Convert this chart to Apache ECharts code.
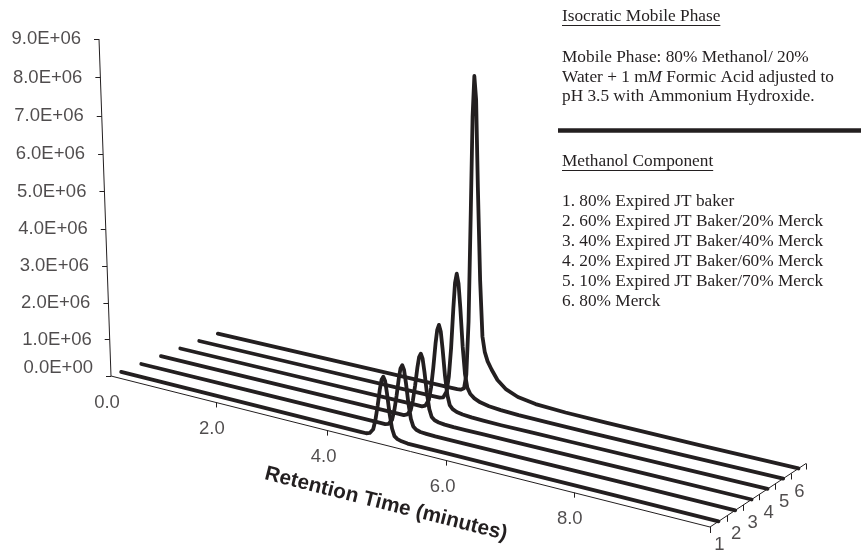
<!DOCTYPE html>
<html><head><meta charset="utf-8">
<script src="https://cdn.jsdelivr.net/npm/echarts@6/dist/echarts.min.js"></script>
<style>html,body{margin:0;padding:0;background:#fff}#c{width:861px;height:550px}</style>
</head><body><div id="c"></div>
<script>
// ---------------- data ----------------
const timeMin = [0, 2, 4.40, 4.50, 4.56, 4.62, 4.66, 4.70, 4.74, 4.77, 4.80, 4.83, 4.86, 4.90, 4.94, 4.98, 5.03, 5.10, 5.20, 5.35, 5.55, 5.85, 6.35, 7.00, 8.50, 10.0];
const trace1 = [0, 0, 0, 0, 0.03e6, 0.15e6, 0.41e6, 0.79e6, 1.23e6, 1.48e6, 1.57e6, 1.47e6, 1.16e6, 0.66e6, 0.29e6, 0.11e6, 0.05e6, 0.02e6, 0, 0, 0, 0, 0, 0, 0, 0];
const trace2 = [0, 0, 0, 0, 0.03e6, 0.16e6, 0.43e6, 0.82e6, 1.28e6, 1.55e6, 1.64e6, 1.53e6, 1.21e6, 0.69e6, 0.30e6, 0.12e6, 0.05e6, 0.02e6, 0.01e6, 0, 0, 0, 0, 0, 0, 0];
const trace3 = [0, 0, 0, 0, 0.04e6, 0.17e6, 0.45e6, 0.86e6, 1.34e6, 1.62e6, 1.72e6, 1.60e6, 1.27e6, 0.73e6, 0.32e6, 0.13e6, 0.06e6, 0.03e6, 0.01e6, 0, 0, 0, 0, 0, 0, 0];
const trace4 = [0, 0, 0, 0, 0.04e6, 0.21e6, 0.56e6, 1.10e6, 1.75e6, 2.12e6, 2.26e6, 2.10e6, 1.66e6, 0.96e6, 0.46e6, 0.21e6, 0.12e6, 0.07e6, 0.04e6, 0.02e6, 0.01e6, 0, 0, 0, 0, 0];
const trace5 = [0, 0, 0, 0, 0.03e6, 0.21e6, 0.63e6, 1.40e6, 2.47e6, 3.15e6, 3.40e6, 3.15e6, 2.52e6, 1.50e6, 0.78e6, 0.44e6, 0.29e6, 0.20e6, 0.13e6, 0.08e6, 0.05e6, 0.03e6, 0.02e6, 0.01e6, 0, 0];
const trace6 = [0, 0, 0, 0, 0.01e6, 0.07e6, 0.45e6, 1.90e6, 4.90e6, 7.30e6, 8.35e6, 7.75e6, 5.50e6, 3.05e6, 1.58e6, 1.18e6, 0.94e6, 0.74e6, 0.50e6, 0.30e6, 0.17e6, 0.09e6, 0.05e6, 0.03e6, 0.01e6, 0];
const traceNames = ['1', '2', '3', '4', '5', '6'];
const yTickValues = [0, 1e6, 2e6, 3e6, 4e6, 5e6, 6e6, 7e6, 8e6, 9e6];
const yTickLabels = ['0.0E+00', '1.0E+06', '2.0E+06', '3.0E+06', '4.0E+06', '5.0E+06', '6.0E+06', '7.0E+06', '8.0E+06', '9.0E+06'];
const xTickValues = [0, 2, 4, 6, 8];
const xTickLabels = ['0.0', '2.0', '4.0', '6.0', '8.0'];
const xTitle = 'Retention Time (minutes)';
const notesHeader1 = 'Isocratic Mobile Phase';
const notesHeader2 = 'Methanol Component';
const notesList = ['1. 80% Expired JT baker', '2. 60% Expired JT Baker/20% Merck', '3. 40% Expired JT Baker/40% Merck', '4. 20% Expired JT Baker/60% Merck', '5. 10% Expired JT Baker/70% Merck', '6. 80% Merck'];

// ---------------- projection (layout) ----------------
const TMAX = 10, DMAX = 6, ZMAX = 9e6;
const FLOOR = {A: [111, 376], B: [710, 527], C: [806, 463.5], D: [227, 330]};
const ZTOP = [99, 39], VPX = 474;
function makeProj() {
  const [x0, y0] = FLOOR.A, [x1, y1] = FLOOR.B, [x2, y2] = FLOOR.C, [x3, y3] = FLOOR.D;
  const dx1 = x1 - x2, dx2 = x3 - x2, sx = x0 - x1 + x2 - x3;
  const dy1 = y1 - y2, dy2 = y3 - y2, sy = y0 - y1 + y2 - y3;
  const det = dx1 * dy2 - dx2 * dy1;
  const g = (sx * dy2 - dx2 * sy) / det, h = (dx1 * sy - sx * dy1) / det;
  const a = x1 - x0 + g * x1, b = x3 - x0 + h * x3, c = x0;
  const d = y1 - y0 + g * y1, e = y3 - y0 + h * y3, f = y0;
  const r = (ZTOP[0] - c) / (VPX - ZTOP[0]);
  const p = VPX * r, q = ZTOP[1] * (1 + r) - f;
  return (t, dd, z) => {
    const u = t / TMAX, v = dd / DMAX, Z = z / ZMAX;
    const w = g * u + h * v + r * Z + 1;
    return [(a * u + b * v + c + p * Z) / w, (d * u + e * v + f + q * Z) / w];
  };
}
const P = makeProj();
const INK = '#231f20';
const traces = [trace1, trace2, trace3, trace4, trace5, trace6];

const series = [];
traces.forEach((vals, k) => {
  series.push({
    type: 'line', name: traceNames[k], symbol: 'none', silent: true, z: 5,
    lineStyle: {color: INK, width: 3.8, join: 'round', cap: 'round'},
    data: timeMin.map((t, i) => P(t, k + 0.5, vals[i]))
  });
});
// axis lines and ticks
const axisSegs = [
  {coords: [P(0, 0, 0), P(TMAX, 0, 0)]},
  {coords: [P(TMAX, 0, 0), P(TMAX, DMAX, 0)]},
  {coords: [P(0, 0, 0), P(0, 0, ZMAX)]}
];
yTickValues.forEach(z => { const s = P(0, 0, z); axisSegs.push({coords: [s, [s[0] - 5, s[1]]]}); });
xTickValues.slice(1).forEach(t => { const s = P(t, 0, 0); axisSegs.push({coords: [s, [s[0], s[1] + 5]]}); });
for (let k = 0; k <= DMAX; k++) { const s = P(TMAX, k, 0); axisSegs.push({coords: [s, [s[0], s[1] + 6]]}); }
series.push({type: 'lines', coordinateSystem: 'cartesian2d', silent: true, z: 3,
  lineStyle: {color: INK, width: 1, opacity: 1}, data: axisSegs});

const labelFont = {fontFamily: 'Liberation Sans, Arial, sans-serif', fontSize: 18.5, color: INK};
series.push({type: 'scatter', symbolSize: 0, silent: true,
  label: Object.assign({show: true, position: 'left', distance: 18, formatter: '{b}'}, labelFont),
  data: yTickValues.map((z, i) => ({name: yTickLabels[i], value: P(0, 0, z), label: i === 0 ? {offset: [0, -8]} : {}}))});
series.push({type: 'scatter', symbolSize: 0, silent: true,
  label: Object.assign({show: true, position: 'bottom', distance: 17, offset: [-4, 0], formatter: '{b}'}, labelFont),
  data: xTickValues.map((t, i) => ({name: xTickLabels[i], value: P(t, 0, 0)}))});
series.push({type: 'scatter', symbolSize: 0, silent: true,
  label: Object.assign({show: true, position: 'bottom', distance: 14, offset: [1, 0], formatter: '{b}'}, labelFont),
  data: traceNames.map((n, k) => ({name: n, value: P(TMAX, k + 0.5, 0)}))});

// ---------------- notes (right panel) ----------------
const SERIF = 'Liberation Serif, Times New Roman, serif';
const NFONT = '17.3px ' + SERIF;
const NX = 562;
const cnv = document.createElement('canvas').getContext('2d');
cnv.font = NFONT;
function tw(s) { return cnv.measureText(s).width; }
const graphic = [];
function noteText(y, text, rich) {
  graphic.push({type: 'text', left: NX, top: y - 10, silent: true,
    style: {text: text, font: NFONT, fill: INK, rich: rich}});
}
function underline(y, text) {
  graphic.push({type: 'line', silent: true, shape: {x1: NX, y1: y + 7.5, x2: NX + tw(text), y2: y + 7.5}, style: {stroke: INK, lineWidth: 1}});
}
noteText(18, notesHeader1); underline(18, notesHeader1);
noteText(59, 'Mobile Phase: 80% Methanol/ 20%');
noteText(78.5, 'Water + 1 m{i|M} Formic Acid adjusted to', {i: {font: 'italic ' + NFONT, fill: INK}});
noteText(98, 'pH 3.5 with Ammonium Hydroxide.');
graphic.push({type: 'rect', silent: true, shape: {x: 558, y: 128.3, width: 303, height: 4.5}, style: {fill: INK}});
noteText(163, notesHeader2); underline(163, notesHeader2);
notesList.forEach((s, i) => noteText(203.3 + i * 20, s));

// axis title, parallel to the time axis
const a0 = P(0, 0, 0), a1 = P(TMAX, 0, 0);
const ang = Math.atan2(a1[1] - a0[1], a1[0] - a0[0]);
graphic.push({type: 'text', x: 386, y: 504, rotation: -ang, silent: true,
  style: {text: xTitle, font: 'bold 20.8px Liberation Sans, Arial, sans-serif', fill: INK, align: 'center', verticalAlign: 'middle'}});

const chart = echarts.init(document.getElementById('c'), null, {renderer: 'canvas'});
chart.setOption({
  animation: false,
  backgroundColor: '#ffffff',
  grid: {left: 0, top: 0, right: 0, bottom: 0},
  xAxis: {type: 'value', min: 0, max: 861, show: false},
  yAxis: {type: 'value', min: 0, max: 550, inverse: true, show: false},
  series: series,
  graphic: graphic
});
</script></body></html>
